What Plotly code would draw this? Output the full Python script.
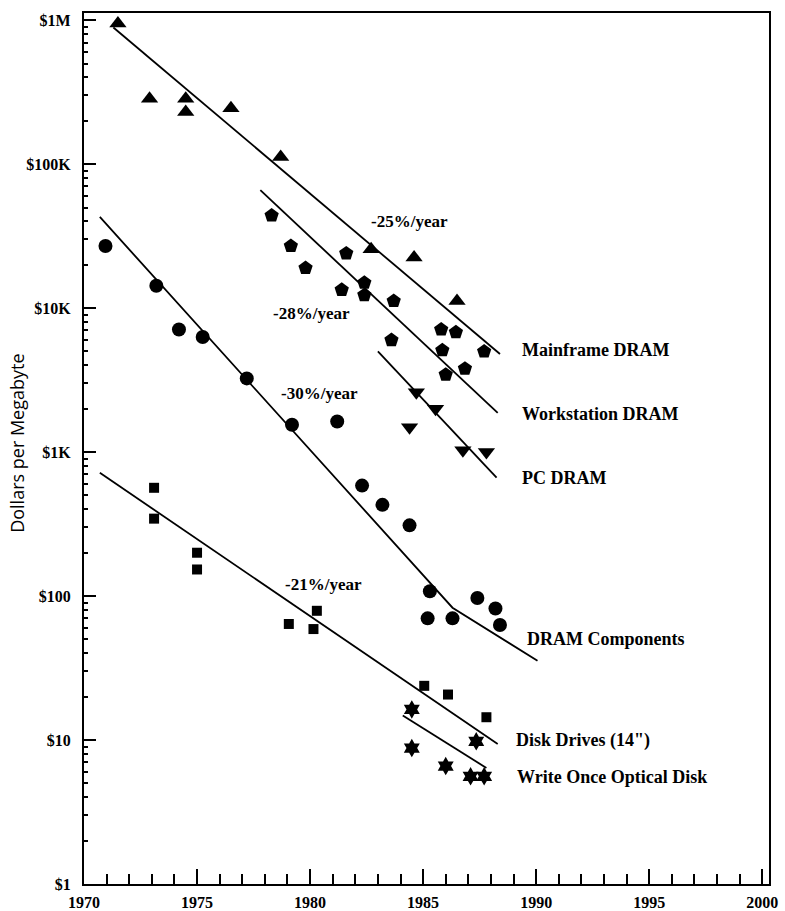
import numpy as np
import plotly.graph_objects as go

# ---------------- data ----------------
mainframe_year = [1971.5, 1972.9, 1974.5, 1974.5, 1976.5, 1978.7, 1982.7, 1984.6, 1986.5]
mainframe_cost = [950000, 285000, 285000, 230000, 245000, 112000, 25600, 22500, 11200]

workstation_year = [1978.3, 1979.15, 1979.8, 1981.6, 1981.4, 1982.4, 1982.4, 1983.7,
                    1983.6, 1985.8, 1986.45, 1985.85, 1987.7, 1986.0, 1986.85]
workstation_cost = [44000, 27000, 19000, 24000, 13400, 15000, 12300, 11200,
                    6000, 7100, 6800, 5100, 5000, 3450, 3800]

pc_year = [1984.7, 1985.55, 1984.4, 1986.76, 1987.8]
pc_cost = [2600, 2000, 1490, 1030, 1000]

dram_year = [1970.95, 1973.2, 1974.2, 1975.25, 1977.2, 1979.2, 1981.2, 1982.3,
             1983.2, 1984.4, 1985.3, 1985.2, 1986.3, 1987.4, 1988.2, 1988.4]
dram_cost = [27000, 14300, 7100, 6300, 3250, 1550, 1630, 585,
             430, 310, 108, 70, 70, 97, 82, 63]

disk_year = [1973.1, 1973.1, 1975.0, 1975.0, 1979.06, 1980.3, 1980.15, 1985.05, 1986.1, 1987.8]
disk_cost = [565, 345, 200, 153, 64, 79, 59, 23.8, 20.7, 14.4]

optical_year = [1984.5, 1984.5, 1986.0, 1987.35, 1987.1, 1987.7]
optical_cost = [16.3, 8.8, 6.6, 9.8, 5.6, 5.6]

# trend lines
mainframe_trend_year = [1971.3, 1988.4]
mainframe_trend_cost = [890000, 4800]
workstation_trend_year = [1977.8, 1988.3]
workstation_trend_cost = [66000, 1870]
pc_trend_year = [1983.0, 1988.25]
pc_trend_cost = [5000, 665]
dram_trend_year = [1970.7, 1986.3, 1990.06]
dram_trend_cost = [43000, 83, 35.5]
disk_trend_year = [1970.7, 1988.3]
disk_trend_cost = [718, 9.4]
optical_trend_year = [1984.1, 1987.8]
optical_trend_cost = [14.8, 6.4]

# labels
series_labels = ["Mainframe DRAM", "Workstation DRAM", "PC DRAM", "DRAM Components",
                 "Disk Drives (14\")", "Write Once Optical Disk"]
series_label_year = [1989.3, 1989.3, 1989.3, 1989.5, 1989.0, 1989.05]
series_label_cost = [5100, 1840, 660, 50, 10, 5.55]

rate_labels = ["-25%/year", "-28%/year", "-30%/year", "-21%/year"]
rate_label_year = [1984.4, 1980.07, 1980.4, 1980.6]
rate_label_cost = [40000, 9250, 2570, 121]

y_tick_vals = [1, 10, 100, 1000, 10000, 100000, 1000000]
y_tick_text = ["$1", "$10", "$100", "$1K", "$10K", "$100K", "$1M"]
x_tick_vals = [1970, 1975, 1980, 1985, 1990, 1995, 2000]

FONT = "Liberation Serif"

fig = go.Figure()

point_sets = [
    (mainframe_year, mainframe_cost, "triangle-up", 15),
    (workstation_year, workstation_cost, "pentagon", 15),
    (pc_year, pc_cost, "triangle-down", 15),
    (dram_year, dram_cost, "circle", 14),
    (disk_year, disk_cost, "square", 10),
    (optical_year, optical_cost, "hexagram", 14),
]
for xs, ys, sym, sz in point_sets:
    fig.add_trace(go.Scatter(x=xs, y=ys, mode="markers",
                             marker=dict(symbol=sym, size=sz, color="black",
                                         line=dict(width=0))))

trend_sets = [
    (mainframe_trend_year, mainframe_trend_cost),
    (workstation_trend_year, workstation_trend_cost),
    (pc_trend_year, pc_trend_cost),
    (dram_trend_year, dram_trend_cost),
    (disk_trend_year, disk_trend_cost),
    (optical_trend_year, optical_trend_cost),
]
for xs, ys in trend_sets:
    fig.add_trace(go.Scatter(x=xs, y=ys, mode="lines",
                             line=dict(color="black", width=1.8)))

for t, xv, yv in zip(series_labels, series_label_year, series_label_cost):
    fig.add_annotation(x=xv, y=np.log10(yv), text=t, showarrow=False,
                       xanchor="left", yanchor="middle",
                       font=dict(family=FONT, size=18, color="black", weight="bold"))

for t, xv, yv in zip(rate_labels, rate_label_year, rate_label_cost):
    fig.add_annotation(x=xv, y=np.log10(yv), text=t, showarrow=False,
                       xanchor="center", yanchor="middle",
                       font=dict(family=FONT, size=17, color="black", weight="bold"))

fig.add_annotation(xref="paper", yref="paper", x=-0.097, y=0.506,
                   text="Dollars per Megabyte", textangle=-90, showarrow=False,
                   xanchor="center", yanchor="middle",
                   font=dict(family="Open Sans", size=18, color="#000000"))

fig.update_xaxes(range=[1970, 2000.3], tickmode="array", tickvals=x_tick_vals,
                 ticks="inside", ticklen=15, tickwidth=1.5, tickcolor="black",
                 minor=dict(dtick=1, ticks="inside", ticklen=10, tickwidth=1.5,
                            tickcolor="black", showgrid=False),
                 showline=True, linecolor="black", linewidth=2.2, mirror=True,
                 showgrid=False, zeroline=False, ticklabelstandoff=3,
                 automargin=False,
                 tickfont=dict(family=FONT, size=16, color="black", weight="bold"))

fig.update_yaxes(type="log", range=[0, 6.05], tickmode="array",
                 tickvals=y_tick_vals, ticktext=y_tick_text,
                 ticks="inside", ticklen=12, tickwidth=1.5, tickcolor="black",
                 minor=dict(dtick="D1", ticks="inside", ticklen=4, tickwidth=1.5,
                            tickcolor="black", showgrid=False),
                 showline=True, linecolor="black", linewidth=2.2, mirror=True,
                 showgrid=False, zeroline=False, ticklabelstandoff=8,
                 automargin=False,
                 tickfont=dict(family=FONT, size=16, color="black", weight="bold"))

fig.update_layout(width=785, height=911, showlegend=False,
                  plot_bgcolor="white", paper_bgcolor="white",
                  margin=dict(l=84, r=16, t=13, b=27, autoexpand=False))

fig.write_html("out.html")
